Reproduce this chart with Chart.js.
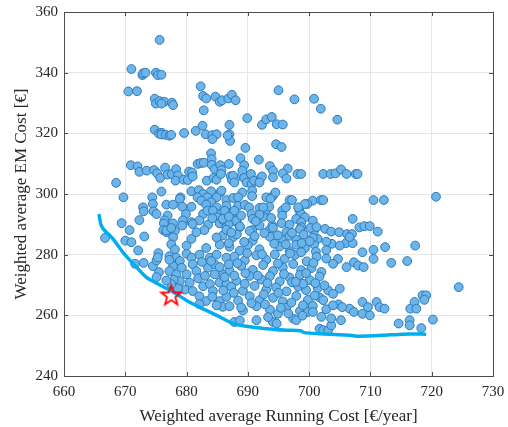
<!DOCTYPE html>
<html>
<head>
<meta charset="utf-8">
<script src="https://cdn.jsdelivr.net/npm/chart.js@4.4.0/dist/chart.umd.min.js"></script>
<style>
  html, body { margin: 0; padding: 0; background: #fff; }
  #wrap { width: 508px; height: 427px; }
</style>
</head>
<body>
<div id="wrap"><canvas id="chart" width="508" height="427"></canvas></div>
<script>
// design points: running cost [€/year] and EM cost [€]
const runningCost = [
  675.6,671.0,672.8,672.9,673.3,675.0,675.3,675.9,670.5,671.9,674.8,675.0,675.6,676.4,675.9,677.6,677.8,
  674.8,675.5,675.9,675.9,676.6,677.2,677.5,679.6,681.5,682.6,682.8,682.3,682.7,683.2,684.7,685.4,685.8,
  686.8,687.4,688.0,683.1,684.2,684.9,684.2,687.0,687.0,687.1,686.7,689.9,692.3,693.0,693.9,694.7,695.0,
  697.6,700.8,701.9,704.6,695.7,694.6,695.5,689.6,684.0,684.1,688.8,691.8,
  670.9,672.0,672.3,673.5,674.7,675.2,675.7,676.5,676.9,677.6,678.3,678.6,678.2,679.5,680.2,680.4,680.9,
  681.0,681.8,682.3,682.8,683.3,684.1,684.4,684.9,684.6,685.5,685.7,685.6,686.9,687.2,687.4,688.0,689.4,
  689.1,689.4,689.8,690.5,690.6,691.0,692.1,692.3,691.9,693.6,694.1,694.1,696.5,695.7,696.3,698.1,698.7,
  702.3,703.5,704.3,705.2,706.1,707.6,707.9,668.5,687.6,687.8,
  669.7,674.4,675.9,679.0,680.8,682.0,682.7,684.0,685.5,681.8,683.4,684.9,686.5,687.6,690.7,690.7,689.1,
  688.4,693.0,694.1,694.5,693.7,696.8,697.2,720.7,710.5,712.2,700.6,701.9,702.3,685.7,682.4,684.0,678.9,699.7,
  672.9,674.5,676.7,677.8,679.3,680.8,683.2,684.9,686.5,688.4,689.5,690.2,691.9,693.0,693.5,695.6,696.2,
  698.4,699.3,673.0,674.6,675.1,676.9,679.9,682.7,683.4,685.4,687.5,690.6,692.5,695.6,698.7,699.3,700.6,
  707.1,692.5,698.2,691.9,684.3,685.0,686.2,687.8,690.8,672.3,676.4,677.8,679.4,680.8,682.1,683.5,685.4,
  697.9,698.7,
  669.4,670.7,679.3,681.0,682.9,686.0,686.5,687.0,688.2,688.7,690.7,693.5,694.0,695.5,696.8,698.7,700.8,
  702.6,703.6,704.9,706.2,707.0,708.2,709.0,709.9,711.2,676.3,676.2,676.7,678.1,677.8,666.7,670.0,671.0,
  673.1,672.1,671.6,673.0,674.5,675.1,675.4,675.5,691.9,685.9,688.1,700.2,
  701.4,700.8,701.1,703.7,706.0,707.1,708.7,710.5,712.4,717.3,706.6,705.0,
  675.3,676.7,677.5,677.5,678.1,677.2,678.3,678.9,679.2,677.8,677.2,678.3,680.0,680.0,680.8,681.6,680.8,
  681.0,681.6,680.0,680.5,678.9,679.7,681.0,682.1,682.7,682.1,683.2,683.8,683.5,684.6,684.9,685.4,685.9,
  684.9,686.5,685.9,684.6,685.4,683.8,686.5,684.3,685.4,683.2,682.1,677.9,678.6,677.5,675.1,676.7,677.2,
  686.5,688.7,690.3,694.1,696.3,698.5,701.2,
  687.6,690.8,693.6,695.7,696.8,697.9,700.6,702.8,
  687.0,688.7,690.0,691.9,695.2,696.8,697.9,699.3,702.8,
  687.8,689.5,691.4,693.0,694.4,696.0,697.7,699.6,701.2,702.8,
  685.4,687.0,688.9,690.8,692.5,694.1,695.7,697.4,698.7,700.4,702.0,
  686.2,688.1,690.3,692.2,693.6,695.2,696.8,698.5,700.1,701.7,
  687.3,689.2,691.1,693.0,694.6,696.3,698.2,699.5,701.4,703.1,
  686.5,688.4,690.3,691.9,694.1,695.7,697.9,699.8,701.7,
  685.9,689.2,691.4,693.6,696.3,698.5,700.6,702.8,
  687.8,688.7,694.1,694.7,691.4,697.4,697.9,699.8,700.6,701.7,702.3,703.1,703.6,702.0,703.6,705.2,705.0,
  684.9,687.0,702.5,703.9,702.3,704.8,
  704.7,706.1,707.3,708.0,708.9,710.5,713.4,716.0,703.9,
  703.9,706.6,707.3,708.7,709.9,708.7,709.6,711.0,711.5,712.3,714.6,716.4,716.4,716.5,717.2,717.5,718.5,
  719.1,718.8,718.3,720.2,724.4,
  688.2,689.4,686.9,691.3,693.8,682.5,681.9,683.0,684.0,687.7,689.5,686.0,688.9,690.6,692.6,692.8,695.0,
  694.9,693.3,695.4,697.1,699.0,697.2,700.9,699.0,696.6,698.9,686.9,684.2,688.9,687.3,692.7,694.9,697.2,
  699.1,691.1,694.3,696.2,698.8,700.1,689.9,692.3,694.9,696.9,698.7,700.7,689.6,691.6,693.2,695.9,697.8,
  699.5,701.0,684.2,686.9,687.8,688.3,705.4
];
const emCost = [
  350.8,341.2,339.2,339.8,340.0,340.0,339.2,339.3,333.8,333.9,331.4,329.8,330.6,330.4,329.8,330.1,329.3,
  321.2,319.9,320.2,319.6,319.5,319.2,319.5,320.1,320.8,322.5,327.6,335.5,332.3,331.5,332.1,330.4,330.9,
  331.5,332.7,330.9,319.7,319.4,319.7,318.1,322.8,319.7,317.5,319.3,325.0,322.8,324.6,325.4,323.0,334.2,
  331.2,331.4,328.1,324.5,322.9,316.4,315.5,315.2,313.4,311.5,311.8,311.3,
  309.5,309.1,307.3,307.7,307.9,306.8,305.3,308.7,306.4,306.6,308.2,306.1,304.4,304.7,304.6,307.4,307.1,
  305.8,309.9,310.2,310.3,304.4,309.6,305.3,304.7,308.2,309.5,307.9,306.6,309.9,305.9,304.6,305.3,309.5,
  307.7,305.3,303.8,306.6,303.3,304.4,305.3,305.8,303.8,309.2,307.7,305.5,308.4,306.8,305.1,306.6,306.6,
  306.6,306.6,306.8,308.1,306.6,306.6,306.6,303.7,306.0,303.8,
  298.9,298.9,300.8,298.9,300.9,301.3,300.0,300.9,300.5,298.9,298.9,298.9,298.0,298.7,301.1,299.3,300.5,
  298.9,298.9,299.4,300.5,298.4,298.0,298.0,299.1,298.0,298.0,297.8,298.0,298.0,301.1,297.8,297.3,298.4,296.7,
  295.6,296.7,296.5,296.5,295.8,295.8,296.5,295.6,296.1,296.1,296.4,295.6,295.4,294.7,295.8,294.5,295.6,
  294.5,296.7,294.3,294.3,293.4,292.9,293.4,293.4,294.5,293.4,293.8,293.4,292.5,292.9,293.4,292.3,291.2,
  291.8,295.6,295.6,293.2,294.5,292.3,294.5,294.5,291.8,291.4,291.3,290.3,291.3,290.7,291.3,289.9,290.3,
  291.8,290.7,
  290.4,288.1,289.6,290.1,288.1,291.4,289.1,290.4,290.7,289.1,288.1,288.1,289.6,290.4,289.9,289.1,287.9,
  288.5,287.6,287.4,286.8,286.8,289.0,289.4,289.4,287.6,290.3,288.1,287.4,287.9,285.7,285.5,284.6,284.1,
  286.0,281.4,277.0,277.3,276.2,278.1,280.5,274.2,289.6,291.8,291.2,288.8,
  285.2,283.4,281.0,283.6,283.8,283.8,280.8,281.6,282.5,283.0,285.8,283.0,
  279.1,288.0,288.8,283.4,281.7,279.5,279.0,277.9,275.7,276.2,274.6,273.5,280.3,283.0,285.2,287.4,279.0,
  276.8,274.6,273.5,270.8,271.3,268.5,268.0,266.3,269.6,280.0,282.2,279.0,275.7,276.8,280.0,283.3,286.3,
  285.7,279.0,273.5,273.5,270.8,270.3,270.3,268.0,264.7,264.7,263.7,271.7,268.9,270.3,272.6,271.5,278.3,
  288.2,289.3,287.8,288.9,287.5,288.4,289.1,
  285.8,284.6,285.9,284.8,286.2,285.0,285.6,284.3,
  282.6,281.3,283.1,281.8,282.7,281.2,283.3,282.1,281.5,
  279.4,278.1,279.8,278.3,280.1,278.6,279.9,277.8,279.3,278.7,
  275.9,274.8,276.3,275.0,276.6,274.6,275.8,276.9,274.9,275.6,274.3,
  272.6,271.4,273.0,271.8,272.9,271.2,272.5,273.3,271.6,272.8,
  269.4,268.1,269.7,268.4,269.2,267.9,269.5,268.3,269.0,268.2,
  266.1,264.9,266.3,265.0,265.8,264.6,266.4,265.1,265.9,
  262.8,261.6,263.0,261.9,262.6,261.4,263.1,262.0,
  257.8,258.3,257.8,257.3,258.4,258.9,258.4,261.1,261.1,255.6,255.1,255.1,256.7,259.5,259.0,258.4,268.8,
  263.3,263.0,269.9,267.1,265.0,263.6,
  278.6,275.9,277.5,276.4,275.9,278.6,277.3,277.9,277.0,
  263.3,262.2,261.1,260.5,260.0,264.4,262.7,264.4,262.7,262.2,257.3,258.4,256.7,262.2,264.4,262.2,266.6,
  266.6,265.1,255.8,258.6,269.3,
  286.7,284.2,283.8,291.0,292.1,277.6,272.2,273.0,277.9,267.4,270.4,268.2,262.6,264.0,266.9,263.6,267.4,
  260.5,259.4,262.5,264.2,270.4,270.9,266.5,263.3,260.6,259.9,292.5,292.0,292.9,287.3,287.1,286.4,287.2,
  286.6,286.1,283.6,283.4,283.8,284.4,280.5,280.1,277.1,280.4,280.8,277.3,273.9,273.1,270.6,273.6,271.0,
  273.9,270.6,266.1,276.8,273.1,277.2,262.7
];

// pareto front
const frontX = [665.7,666.0,666.4,668.0,669.6,671.3,673.4,675.3,677.8,680.0,682.1,684.9,687.6,689.7,693.0,696.3,698.6,699.2,701.7,706.6,708.2,712.0,715.3,719.1];
const frontY = [293.4,290.1,288.5,285.2,280.8,277.0,272.6,270.4,267.7,264.9,262.7,260.0,257.3,256.4,255.6,255.1,254.9,254.3,253.9,253.4,253.1,253.4,253.8,253.8];

// selected design
const starX = [677.5];
const starY = [266.6];

const xTicks = [660, 670, 680, 690, 700, 710, 720, 730];
const yTicks = [240, 260, 280, 300, 320, 340, 360];

const serif = '"Liberation Serif", "Times New Roman", serif';
const textColor = '#262626';

function makeStar() {
  const c = document.createElement('canvas');
  c.width = 26; c.height = 26;
  const g = c.getContext('2d');
  const R = 10.5, r = 4.3;
  g.beginPath();
  for (let i = 0; i < 10; i++) {
    const a = -Math.PI / 2 + i * Math.PI / 5;
    const rad = i % 2 === 0 ? R : r;
    const px = 13 + rad * Math.cos(a), py = 13.5 + rad * Math.sin(a);
    if (i === 0) g.moveTo(px, py); else g.lineTo(px, py);
  }
  g.closePath();
  g.strokeStyle = '#ff0000';
  g.lineWidth = 1.8;
  g.stroke();
  return c;
}

// box around the plot with inward ticks, like matlab "box on"
const boxPlugin = {
  id: 'box',
  afterDraw(chart) {
    const { ctx, chartArea: a, scales } = chart;
    ctx.save();
    ctx.strokeStyle = '#4d4d4d';
    ctx.lineWidth = 1;
    ctx.strokeRect(a.left + 0.5, a.top + 0.5, a.right - a.left, a.bottom - a.top);
    ctx.beginPath();
    xTicks.forEach(v => {
      const px = Math.round(scales.x.getPixelForValue(v)) + 0.5;
      ctx.moveTo(px, a.bottom); ctx.lineTo(px, a.bottom - 4);
      ctx.moveTo(px, a.top); ctx.lineTo(px, a.top + 4);
    });
    yTicks.forEach(v => {
      const py = Math.round(scales.y.getPixelForValue(v)) + 0.5;
      ctx.moveTo(a.left, py); ctx.lineTo(a.left + 4, py);
      ctx.moveTo(a.right, py); ctx.lineTo(a.right - 4, py);
    });
    ctx.stroke();
    ctx.restore();
  }
};

new Chart(document.getElementById('chart'), {
  type: 'scatter',
  data: {
    datasets: [
      {
        label: 'selected',
        data: starX.map((x, i) => ({ x, y: starY[i] })),
        pointStyle: makeStar(),
        pointRadius: 11,
        order: 0
      },
      {
        label: 'front',
        type: 'line',
        data: frontX.map((x, i) => ({ x, y: frontY[i] })),
        borderColor: '#00aeef',
        borderWidth: 3.5,
        pointRadius: 0,
        fill: false,
        tension: 0.2,
        order: 1
      },
      {
        label: 'designs',
        data: runningCost.map((x, i) => ({ x, y: emCost[i] })),
        backgroundColor: '#6db5e9',
        borderColor: '#2a79bc',
        borderWidth: 1,
        pointRadius: 4.4,
        order: 2
      }
    ]
  },
  options: {
    responsive: false,
    animation: false,
    events: [],
    layout: { padding: { top: 11, right: 15, left: 0, bottom: 0 } },
    plugins: { legend: { display: false }, tooltip: { enabled: false } },
    scales: {
      x: {
        type: 'linear',
        min: 660, max: 730,
        afterFit: s => { s.height = 51; s.paddingLeft = 0; s.paddingRight = 0; },
        afterBuildTicks: s => { s.ticks = xTicks.map(v => ({ value: v })); },
        grid: { color: '#e6e6e6', drawTicks: false },
        border: { display: false },
        ticks: { color: textColor, font: { family: serif, size: 15 }, padding: 7 },
        title: {
          display: true,
          text: 'Weighted average Running Cost [€/year]',
          color: textColor,
          font: { family: serif, size: 17 },
          padding: { top: 3, bottom: 0 }
        }
      },
      y: {
        type: 'linear',
        min: 240, max: 360,
        afterFit: s => { s.width = 64; s.paddingTop = 0; s.paddingBottom = 0; },
        afterBuildTicks: s => { s.ticks = yTicks.map(v => ({ value: v })); },
        grid: { color: '#e6e6e6', drawTicks: false },
        border: { display: false },
        ticks: { color: textColor, font: { family: serif, size: 15 }, padding: 6 },
        title: {
          display: true,
          text: 'Weighted average EM Cost [€]',
          color: textColor,
          font: { family: serif, size: 17 },
          padding: { top: 11, bottom: 0 }
        }
      }
    }
  },
  plugins: [boxPlugin]
});
</script>
</body>
</html>
